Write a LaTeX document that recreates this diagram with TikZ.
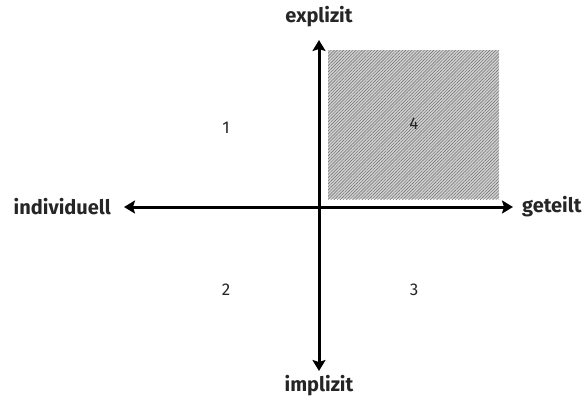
\documentclass[tikz,border=0pt]{standalone}
\usepackage{fontspec}
\setmainfont{Fira Sans}
\usetikzlibrary{arrows.meta,patterns.meta}
\begin{document}
\begin{tikzpicture}[x=1pt,y=-1pt,
  axis/.style={line width=3pt,{Stealth[width=13pt,length=11pt,inset=2pt]}-{Stealth[width=13pt,length=11pt,inset=2pt]}},
  axlabel/.style={font=\fontsize{20}{23}\selectfont\bfseries,text=black!85,inner sep=0pt},
  num/.style={font=\fontsize{17}{20}\selectfont,text=black!85,inner sep=0pt}]
\useasboundingbox (0,0) rectangle (587,400);
\fill[black!18] (328,50) rectangle (499,199);
\fill[pattern={Lines[angle=45,distance=2.2pt,line width=0.45pt]},pattern color=black!60] (328,50) rectangle (499,199);
\coordinate (top) at (319,40);
\coordinate (bot) at (319,371);
\coordinate (lft) at (124,207);
\coordinate (rgt) at (513,207);
\draw[axis] (bot) -- (top);
\draw[axis] (lft) -- (rgt);
\node[axlabel] (ex) at (319,17) {explizit};
\node[axlabel] (im) at (319,386) {implizit};
\node[axlabel,anchor=east] (ind) at (111,207) {individuell};
\node[axlabel,anchor=west] (get) at (522,207) {geteilt};
\node[num] (n1) at (226,128) {1};
\node[num] (n2) at (226,290) {2};
\node[num] (n3) at (414,290) {3};
\node[num] (n4) at (414,124) {4};
\end{tikzpicture}
\end{document}
